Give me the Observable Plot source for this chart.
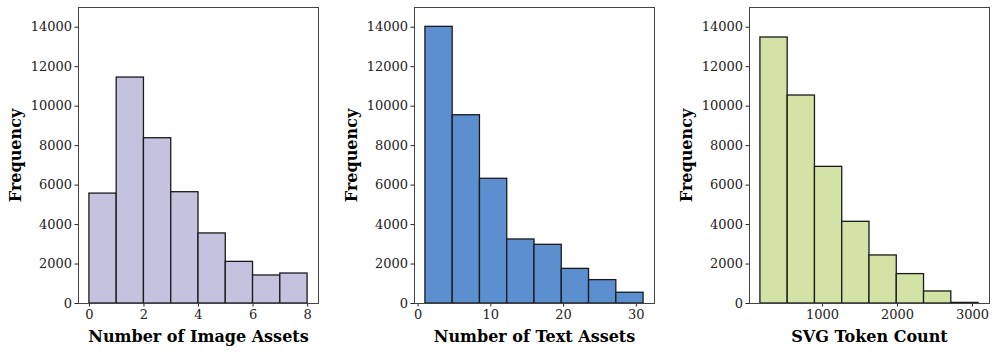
<!DOCTYPE html>
<html>
<head>
<meta charset="utf-8">
<script src="https://cdn.jsdelivr.net/npm/d3@7"></script>
<script src="https://cdn.jsdelivr.net/npm/@observablehq/plot@0.6"></script>
<style>
  html, body { margin: 0; padding: 0; background: #fff; }
  #wrap { position: relative; width: 997px; height: 352px; }
  .panel { position: absolute; top: 0; height: 352px; }
  .panel svg { display: block; }
  .panel g[aria-label="x-axis label"] text,
  .panel g[aria-label="y-axis label"] text { font-weight: bold; font-size: 16px; fill: #000; }
</style>
</head>
<body>
<div id="wrap"></div>
<script>
// Panel 1: Number of Image Assets
const imageEdges = [0, 1, 2, 3, 4, 5, 6, 7, 8];
const imageCounts = [5570, 11450, 8375, 5640, 3550, 2110, 1420, 1520];
// Panel 2: Number of Text Assets
const textEdges = [1, 4.75, 8.5, 12.25, 16, 19.75, 23.5, 27.25, 31];
const textCounts = [14020, 9540, 6320, 3245, 2975, 1755, 1185, 545];
// Panel 3: SVG Token Count
const tokenEdges = [172, 535.6, 899.2, 1262.8, 1626.4, 1990, 2353.6, 2717.2, 3081];
const tokenCounts = [13480, 10540, 6925, 4140, 2435, 1490, 610, 30];

const yTicks = [0, 2000, 4000, 6000, 8000, 10000, 12000, 14000];
const imageTicks = [0, 2, 4, 6, 8];
const textTicks = [0, 10, 20, 30];
const tokenTicks = [1000, 2000, 3000];

const panels = [
  {edges: imageEdges, counts: imageCounts, ticks: imageTicks, label: "Number of Image Assets",
   fill: "#c4c2de", left: 0, width: 330, marginLeft: 78},
  {edges: textEdges, counts: textCounts, ticks: textTicks, label: "Number of Text Assets",
   fill: "#5c8fd0", left: 330, width: 330, marginLeft: 84},
  {edges: tokenEdges, counts: tokenCounts, ticks: tokenTicks, label: "SVG Token Count",
   fill: "#d3e2a5", left: 660, width: 337, marginLeft: 89}
];

const wrap = document.getElementById("wrap");
for (const p of panels) {
  const bins = p.counts.map((c, i) => ({x1: p.edges[i], x2: p.edges[i + 1], y: c}));
  const lo = p.edges[0], hi = p.edges[p.edges.length - 1], pad = (hi - lo) * 0.05;
  const frameW = 240;
  const chart = Plot.plot({
    width: p.width,
    height: 352,
    marginLeft: p.marginLeft,
    marginRight: p.width - p.marginLeft - frameW,
    marginTop: 7,
    marginBottom: 49,
    style: {fontSize: "13px", fontFamily: "DejaVu Serif, serif", color: "#222"},
    x: {domain: [lo - pad, hi + pad], ticks: p.ticks, tickFormat: d => String(d), label: p.label,
        labelAnchor: "center", labelArrow: "none", labelOffset: 38, tickSize: 3.5, tickPadding: 3},
    y: {domain: [0, 15000], ticks: yTicks, tickFormat: d => String(d), label: "Frequency",
        labelAnchor: "center", labelArrow: "none", labelOffset: 69, tickSize: 3.5, tickPadding: 3},
    marks: [
      Plot.rectY(bins, {x1: "x1", x2: "x2", y: "y", fill: p.fill, stroke: "#1a1a1a", strokeWidth: 1.3}),
      Plot.frame({stroke: "#444", strokeWidth: 1})
    ]
  });
  const div = document.createElement("div");
  div.className = "panel";
  div.style.left = p.left + "px";
  div.style.width = p.width + "px";
  div.appendChild(chart);
  wrap.appendChild(div);
}
</script>
</body>
</html>
